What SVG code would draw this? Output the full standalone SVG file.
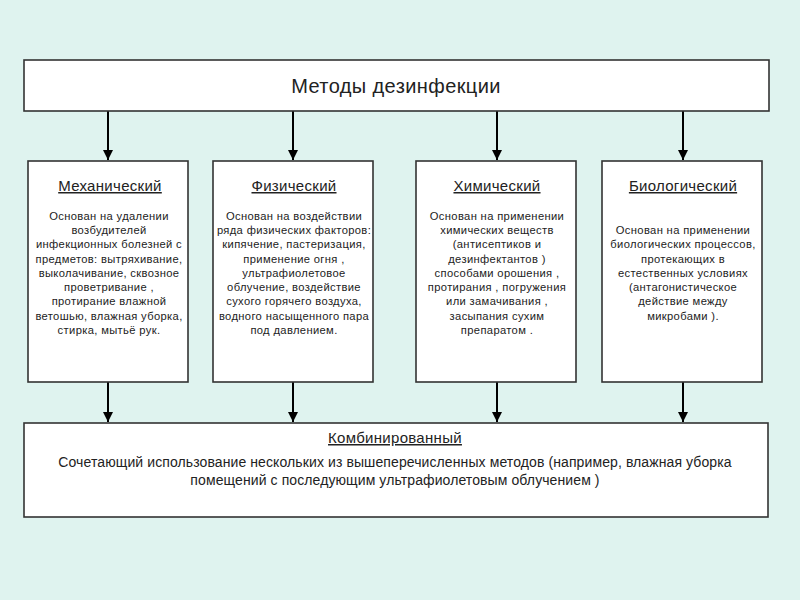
<svg xmlns="http://www.w3.org/2000/svg" width="800" height="600" viewBox="0 0 800 600">
<defs>
<marker id="arr" viewBox="0 0 10 10" refX="10" refY="5" markerWidth="5" markerHeight="5" markerUnits="strokeWidth" orient="auto">
<path d="M0,0 L10,5 L0,10 Z" fill="#000"/>
</marker>
</defs>
<style>
.box{fill:#fff;stroke:#333;stroke-width:1.6}
.t{font-family:"Liberation Sans",Arial,sans-serif;fill:#222;text-anchor:middle}
.title{font-size:20px;letter-spacing:0.4px}
.h{font-size:15px;text-decoration:underline;letter-spacing:0.3px}
.b{font-size:11.2px;letter-spacing:0.35px}
.cb{font-size:14px;letter-spacing:0.1px}
.con{stroke:#000;stroke-width:2;fill:none;marker-end:url(#arr)}
</style>
<rect width="800" height="600" fill="#dff3ef"/>
<g id="connectors">
<line class="con" x1="108" y1="111" x2="108" y2="160"/>
<line class="con" x1="293" y1="111" x2="293" y2="160"/>
<line class="con" x1="497" y1="111" x2="497" y2="160"/>
<line class="con" x1="683" y1="111" x2="683" y2="160"/>
<line class="con" x1="108" y1="382" x2="108" y2="422"/>
<line class="con" x1="293" y1="382" x2="293" y2="422"/>
<line class="con" x1="497" y1="382" x2="497" y2="422"/>
<line class="con" x1="683" y1="382" x2="683" y2="422"/>
</g>
<g id="methods">
<rect class="box" x="24" y="60" width="745" height="51"/>
<text class="t title" x="396" y="93">Методы дезинфекции</text>
</g>
<g id="mechanical">
<rect class="box" x="28" y="161" width="160" height="221"/>
<text class="t h" x="110" y="191">Механический</text>
<text class="t b" x="109" y="220">Основан на удалении</text>
<text class="t b" x="109" y="234">возбудителей</text>
<text class="t b" x="109" y="248">инфекционных болезней с</text>
<text class="t b" x="109" y="263">предметов: вытряхивание,</text>
<text class="t b" x="109" y="277">выколачивание, сквозное</text>
<text class="t b" x="109" y="291">проветривание ,</text>
<text class="t b" x="109" y="305">протирание влажной</text>
<text class="t b" x="109" y="320">ветошью, влажная уборка,</text>
<text class="t b" x="109" y="334">стирка, мытьё рук.</text>
</g>
<g id="physical">
<rect class="box" x="213" y="161" width="160" height="221"/>
<text class="t h" x="294" y="191">Физический</text>
<text class="t b" x="294" y="220">Основан на воздействии</text>
<text class="t b" x="294" y="234">ряда физических факторов:</text>
<text class="t b" x="294" y="248">кипячение, пастеризация,</text>
<text class="t b" x="294" y="263">применение огня ,</text>
<text class="t b" x="294" y="277">ультрафиолетовое</text>
<text class="t b" x="294" y="291">облучение, воздействие</text>
<text class="t b" x="294" y="305">сухого горячего воздуха,</text>
<text class="t b" x="294" y="320">водного насыщенного пара</text>
<text class="t b" x="294" y="334">под давлением.</text>
</g>
<g id="chemical">
<rect class="box" x="416" y="161" width="160" height="221"/>
<text class="t h" x="497" y="191">Химический</text>
<text class="t b" x="497" y="220">Основан на применении</text>
<text class="t b" x="497" y="234">химических веществ</text>
<text class="t b" x="497" y="248">(антисептиков и</text>
<text class="t b" x="497" y="263">дезинфектантов )</text>
<text class="t b" x="497" y="277">способами орошения ,</text>
<text class="t b" x="497" y="291">протирания , погружения</text>
<text class="t b" x="497" y="305">или замачивания ,</text>
<text class="t b" x="497" y="320">засыпания сухим</text>
<text class="t b" x="497" y="334">препаратом .</text>
</g>
<g id="biological">
<rect class="box" x="602" y="161" width="160" height="221"/>
<text class="t h" x="683" y="191">Биологический</text>
<text class="t b" x="683" y="234">Основан на применении</text>
<text class="t b" x="683" y="248">биологических процессов,</text>
<text class="t b" x="683" y="263">протекающих в</text>
<text class="t b" x="683" y="277">естественных условиях</text>
<text class="t b" x="683" y="291">(антагонистическое</text>
<text class="t b" x="683" y="305">действие между</text>
<text class="t b" x="683" y="320">микробами ).</text>
</g>
<g id="combined">
<rect class="box" x="24" y="423" width="744" height="94"/>
<text class="t h" x="395" y="443">Комбинированный</text>
<text class="t cb" x="395" y="467">Сочетающий использование нескольких из вышеперечисленных методов (например, влажная уборка</text>
<text class="t cb" x="395" y="485">помещений с последующим ультрафиолетовым облучением )</text>
</g>
</svg>
